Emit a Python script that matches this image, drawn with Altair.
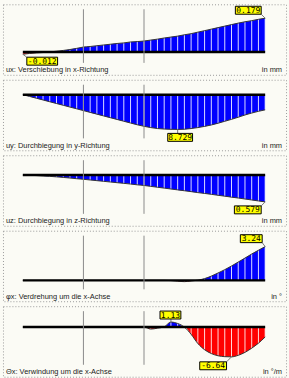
import altair as alt
import pandas as pd

station = list(range(37))
support_lines = [9, 18]

ux = [-0.012, -0.008, -0.005, -0.003, 0.000, 0.004, 0.008, 0.013, 0.019, 0.026,
      0.029, 0.033, 0.037, 0.041, 0.045, 0.048, 0.053, 0.055, 0.058, 0.063,
      0.068, 0.074, 0.079, 0.084, 0.091, 0.097, 0.105, 0.113, 0.121, 0.129,
      0.137, 0.145, 0.153, 0.160, 0.166, 0.173, 0.179]
uy = [0.000, 0.445, 0.890, 1.335, 1.780, 2.225, 2.670, 3.115, 3.560, 4.005,
      4.450, 4.895, 5.340, 5.785, 6.230, 6.675, 7.120, 7.564, 7.951, 8.267,
      8.510, 8.632, 8.705, 8.729, 8.681, 8.510, 8.267, 7.975, 7.611, 7.173,
      6.687, 6.200, 5.665, 5.106, 4.620, 4.182, 3.817]
uz = [0.000, 0.004, 0.010, 0.019, 0.027, 0.038, 0.050, 0.063, 0.078, 0.090,
      0.105, 0.120, 0.134, 0.149, 0.164, 0.178, 0.193, 0.210, 0.224, 0.243,
      0.262, 0.281, 0.300, 0.319, 0.338, 0.357, 0.378, 0.396, 0.415, 0.436,
      0.455, 0.476, 0.495, 0.516, 0.537, 0.558, 0.579]
phix = [0, 0, 0, 0, 0, 0, 0, 0, 0, 0,
        0, 0, 0, 0, 0, 0, 0, 0, 0, 0,
        0, 0, -0.02, -0.08, -0.12, -0.06, 0.02, 0.17, 0.41, 0.71,
        1.03, 1.38, 1.76, 2.14, 2.53, 2.89, 3.24]
thetax = [0, 0, 0, 0, 0, 0, 0, 0, 0, 0,
          0, 0, 0, 0, 0, 0, 0, 0, 0.00, -0.45,
          -0.25, 0.05, 1.13, 0.80, 0.00, -1.62, -3.67, -5.05, -5.91, -6.40,
          -6.60, -6.64, -6.30, -5.64, -4.71, -3.60, -2.21]

titles = ["ux: Verschiebung in x-Richtung",
          "uy: Durchbiegung in y-Richtung",
          "uz: Durchbiegung in z-Richtung",
          "φx: Verdrehung um die x-Achse",
          "Θx: Verwindung um die x-Achse"]
units = ["in mm", "in mm", "in mm", "in °", "in °/m"]

# label: (station index, text, box offsets (x0, x1, y0, y1), connector end offset)
panels = [
    dict(vals=ux, dom=[0, 0.179], rng=[48, 14],
         labels=[(36, "0.179", (-30, -4, -12, -4), (-4, -4)),
                 (0, "-0.012", (4, 35, 3, 11), (4, 3))]),
    dict(vals=uy, dom=[0, 8.729], rng=[15, 50],
         labels=[(23, "8.729", (-10, 15, 4, 12), (0, 4))]),
    dict(vals=uz, dom=[0, 0.579], rng=[20, 47],
         labels=[(36, "0.579", (-31, -4, 4, 12), (-4, 4))]),
    dict(vals=phix, dom=[0, 3.24], rng=[50, 16],
         labels=[(36, "3.24", (-25, -3, -12, -4), (-3, -4))]),
    dict(vals=thetax, dom=[0, -6.64], rng=[21, 51],
         labels=[(22, "1.13", (-11, 10, -11, -3), (0, -3)),
                 (31, "-6.64", (-32, -5, 5, 13), (-5, 5))]),
]

W, H = 285, 71


def build(p, title, unit):
    df = pd.DataFrame({"s": station, "v": p["vals"]})
    df["vp"] = df["v"].clip(lower=0)
    df["vn"] = df["v"].clip(upper=0)
    xs = alt.Scale(domain=[0, 36], range=[20, 264])
    ys = alt.Scale(domain=p["dom"], range=p["rng"])
    X = alt.X("s:Q", scale=xs, axis=None)
    base = alt.Chart(df)
    layers = [
        base.mark_area(color="#0000ff", interpolate="monotone").encode(
            X, alt.Y("vp:Q", scale=ys, axis=None), y2=alt.datum(0)),
        base.mark_area(color="#ff0000", interpolate="monotone").encode(
            X, alt.Y("vn:Q", scale=ys, axis=None), y2=alt.datum(0)),
        base.mark_rule(color="#ffffff", strokeWidth=1, opacity=0.85).encode(
            X, alt.Y("v:Q", scale=ys, axis=None), y2=alt.datum(0)),
        base.mark_line(color="#333333", strokeWidth=1, interpolate="monotone").encode(
            X, alt.Y("v:Q", scale=ys, axis=None)),
        alt.Chart(pd.DataFrame({"a": [0], "b": [36], "z": [0]})).mark_rule(
            color="#000000", strokeWidth=2.5).encode(
            x=alt.X("a:Q", scale=xs, axis=None), x2="b:Q",
            y=alt.Y("z:Q", scale=ys, axis=None)),
        alt.Chart(pd.DataFrame({"s": support_lines})).mark_rule(
            color="#8a8a8a", strokeWidth=1).encode(
            X, y=alt.value(5), y2=alt.value(59)),
    ]
    for idx, txt, box, conn in p["labels"]:
        ldf = pd.DataFrame({"s": [idx], "v": [p["vals"][idx]], "t": [txt]})
        lb = alt.Chart(ldf)
        Y = alt.Y("v:Q", scale=ys, axis=None)
        layers.append(lb.mark_rule(color="#777777", strokeWidth=1,
                                   x2Offset=conn[0], y2Offset=conn[1]).encode(
            X, Y, x2="s:Q", y2="v:Q"))
        layers.append(lb.mark_rect(fill="#ffff00", stroke="#000000", strokeWidth=1,
                                   xOffset=box[0], x2Offset=box[1],
                                   yOffset=box[2], y2Offset=box[3]).encode(
            X, Y, x2="s:Q", y2="v:Q"))
        layers.append(lb.mark_text(font="DejaVu Sans Mono", fontSize=8, color="#000000",
                                   align="center", baseline="middle",
                                   xOffset=(box[0] + box[1]) / 2,
                                   yOffset=(box[2] + box[3]) / 2 + 0.5).encode(
            X, Y, text="t:N"))
    tdf = pd.DataFrame({"t": [title], "u": [unit]})
    layers.append(alt.Chart(tdf).mark_text(align="left", baseline="middle", fontSize=7.5,
                                           font="Liberation Sans", color="#222222").encode(
        x=alt.value(3), y=alt.value(66.5), text="t:N"))
    layers.append(alt.Chart(tdf).mark_text(align="right", baseline="middle", fontSize=7.5,
                                           font="Liberation Sans", color="#222222").encode(
        x=alt.value(281), y=alt.value(66.5), text="u:N"))
    return alt.layer(*layers).properties(width=W, height=H)


charts = [build(p, t, u) for p, t, u in zip(panels, titles, units)]

chart = alt.vconcat(*charts, spacing=3).properties(
    padding={"left": 2, "top": 2, "right": 2, "bottom": 2},
    background="#fbfbf5",
).configure_view(stroke="#9a9a9a", strokeDash=[1, 2], strokeWidth=1)

chart.save("out.html", embed_options={"renderer": "svg", "actions": False})
